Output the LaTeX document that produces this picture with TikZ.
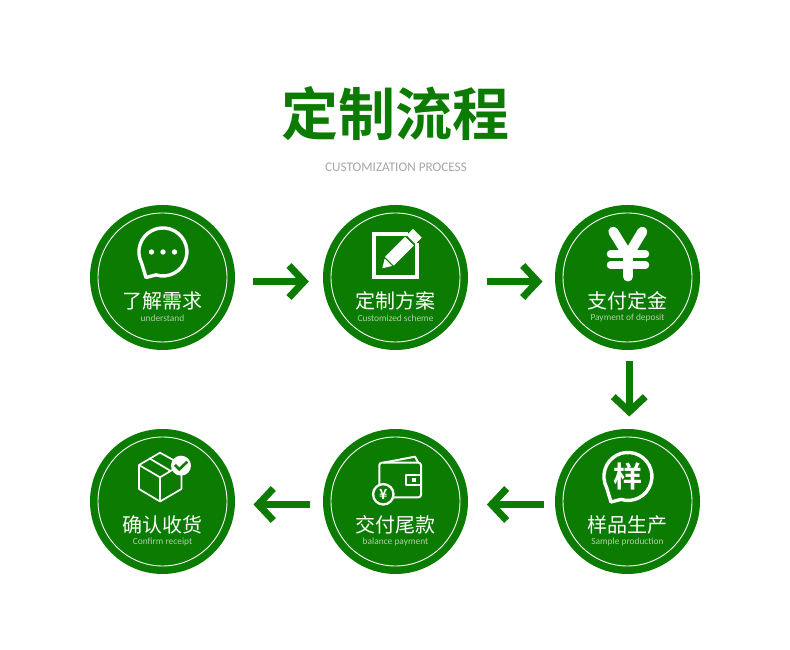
\documentclass[tikz,border=0pt]{standalone}
\usepackage{fontspec}
\setmainfont{Carlito}
\newfontfamily\cjk{Noto Sans CJK SC}
\newfontfamily\cjkbold{Noto Sans CJK SC Bold}
\usepackage{xcolor}
\usetikzlibrary{arrows.meta,positioning,calc}
\definecolor{leaf}{HTML}{0B7B02}
\definecolor{mist}{HTML}{AFCFA8}
\tikzset{
  disc/.style={circle,fill=leaf,minimum size=145pt,inner sep=0pt},
  ring/.style={draw=white,line width=0.9pt},
  cnlabel/.style={font=\cjk\fontsize{20}{20}\selectfont,text=white,inner sep=0pt},
  enlabel/.style={font=\fontsize{9.4}{10}\selectfont,text=mist,inner sep=0pt},
  flow/.style={draw=leaf,line width=7pt,-{Straight Barb[length=15pt,width=32pt]}},
  icon/.style={draw=white,line width=3.4pt},
  thinicon/.style={draw=white,line width=1.7pt,line join=round},
  bubble/.pic={
    \draw[icon,line join=round] (-7.1,-22.9) arc (253:567:24) -- (-17,-25.5) -- cycle;
  }
}
\begin{document}
\begin{tikzpicture}[x=1pt,y=1pt]
  \useasboundingbox (0,0) rectangle (790,650);
  \node[font=\cjkbold\fontsize{57}{57}\selectfont,text=leaf,inner sep=0pt] (title) at (395,536) {定制流程};
  \node[font=\fontsize{13.2}{13}\selectfont,text=black!35,inner sep=0pt] (subtitle) at (396,483) {CUSTOMIZATION PROCESS};
  % discs with their labels
  \foreach \name/\px/\py/\cn/\en in {
    s1/162.5/372.5/了解需求/understand,
    s2/395.5/372.5/定制方案/Customized scheme,
    s3/627.5/372.5/支付定金/Payment of deposit,
    s6/627.5/148.5/样品生产/Sample production,
    s5/395.5/148.5/交付尾款/balance payment,
    s4/162.5/148.5/确认收货/Confirm receipt}{
    \node[disc] (\name) at (\px,\py) {};
    \draw[ring] (\name) circle (64.5);
    \node[cnlabel,yshift=-23.5pt] (\name cn) at (\name) {\cn};
    \node[enlabel,yshift=-40.5pt] (\name en) at (\name) {\en};
  }
  % arrows between the discs
  \draw[flow,shorten <=18pt,shorten >=14pt] ([yshift=-4pt]s1.east) -- ([yshift=-4pt]s2.west);
  \draw[flow,shorten <=18.7pt,shorten >=12.3pt] ([yshift=-4pt]s2.east) -- ([yshift=-4pt]s3.west);
  \draw[flow,shorten <=11pt,shorten >=12.3pt] ([xshift=1.8pt]s3.south) -- ([xshift=1.8pt]s6.north);
  \draw[flow,shorten <=11pt,shorten >=18.7pt] ([yshift=-3pt]s6.west) -- ([yshift=-3pt]s5.east);
  \draw[flow,shorten <=13pt,shorten >=18.3pt] ([yshift=-3pt]s5.west) -- ([yshift=-3pt]s4.east);
  % chat icon
  \begin{scope}[shift={(s1.center)}]
    \pic at (0.5,25.5) {bubble};
    \foreach \dx in {-11,0.5,12}
      \fill[white] (\dx,25.5) circle (2.7);
  \end{scope}
  % note and pen
  \begin{scope}[shift={(s2.center)}]
    \draw[white,line width=4.3pt,line join=miter] (12,43.8) -- (-21.8,43.8) -- (-21.8,0.8) -- (21.8,0.8) -- (21.8,34);
    \begin{scope}[shift={(-13.2,9.2)},rotate=45]
      \fill[white] (0,0) -- (8.5,5.2) -- (8.5,-5.2) -- cycle;
      \fill[white] (10,6.2) -- (38.5,6.2) -- (38.5,-6.2) -- (10,-6.2) -- cycle;
      \fill[white] (40.5,6.2) -- (49.5,6.2) -- (49.5,-6.2) -- (40.5,-6.2) -- cycle;
    \end{scope}
  \end{scope}
  % yen sign
  \begin{scope}[shift={(s3.center)}]
    \draw[white,line width=10pt,line cap=round,line join=round] (-14.2,45.8) -- (0.5,22) -- (14.8,45.8);
    \draw[white,line width=10pt,line cap=round] (0.5,22) -- (0.5,1);
    \draw[white,line width=7.5pt,line cap=round] (-17,23.7) -- (18,23.7);
    \draw[white,line width=7.5pt,line cap=round] (-17,12.5) -- (18,12.5);
  \end{scope}
  % sample bubble
  \begin{scope}[shift={(s6.center)}]
    \pic at (0.5,25) {bubble};
    \node[font=\cjkbold\fontsize{29}{29}\selectfont,text=white,inner sep=0pt] (s6mark) at (0.5,25) {样};
  \end{scope}
  % wallet with coin
  \begin{scope}[shift={(s5.center)}]
    \draw[thinicon,line width=2pt,rounded corners=2.5pt] (-16.2,38.8) rectangle (25.5,4.2);
    \draw[thinicon,line width=2pt] (-12.2,38.8) -- (19.5,44.8) -- (22.8,38.8);
    \draw[thinicon,line width=2pt,fill=leaf] (10.5,26.5) rectangle (25.5,16.5);
    \fill[white] (16.2,23.2) rectangle (20.5,19.8);
    \draw[white,fill=leaf,line width=2.3pt] (-12.2,7.2) circle (10.2);
    \node[font=\cjkbold\fontsize{14}{14}\selectfont,text=white,inner sep=0pt] (s5yen) at (-12.2,7.2) {¥};
  \end{scope}
  % parcel with tick
  \begin{scope}[shift={(s4.center)}]
    \draw[thinicon] (-2.5,48.8) -- (-23.5,36.5) -- (-23.5,12.5) -- (-2.5,0) -- (19,12.5) -- (19,37) -- cycle;
    \draw[thinicon] (-23.5,36.5) -- (-2.5,24.2) -- (19,37);
    \draw[thinicon] (-2.5,24.2) -- (-2.5,0);
    \draw[thinicon] (-13.2,43.2) -- (8.2,30.5);
    \fill[white] (18.5,35.8) circle (10);
    \draw[leaf,line width=2.6pt] (12.5,36.5) -- (16.8,32.2) -- (24.8,39.8);
  \end{scope}
\end{tikzpicture}
\end{document}
